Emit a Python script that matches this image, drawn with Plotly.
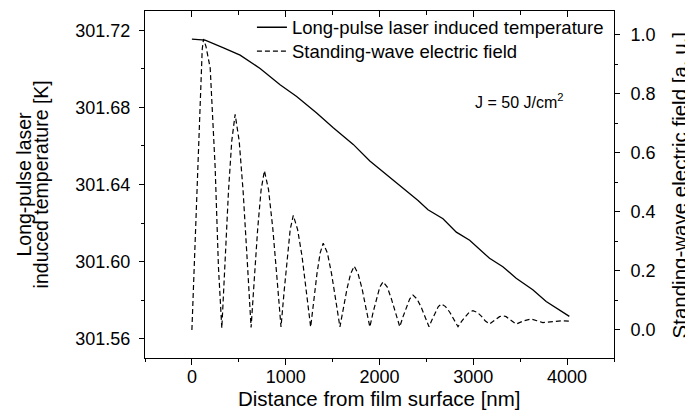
import plotly.graph_objects as go

# Long-pulse laser induced temperature (left axis, K)
temp_x = [0, 141, 337, 514, 727, 940, 1117, 1330, 1507, 1720, 1897, 2150, 2411,
          2517, 2677, 2819, 2961, 3173, 3315, 3457, 3634, 3777, 4024]
temp_y = [301.7154, 301.7149, 301.7109, 301.7071, 301.7002, 301.6917, 301.6857,
          301.6771, 301.6694, 301.6608, 301.6522, 301.6420, 301.6317, 301.6269,
          301.6222, 301.6153, 301.6111, 301.6017, 301.5973, 301.5914, 301.5854,
          301.5793, 301.5716]

# Standing-wave electric field (right axis, a.u.)
field_x = [0, 30, 55, 88, 110, 124, 150, 195, 248, 283, 319,
           355, 390, 425, 461, 504, 546, 589, 631,
           667, 702, 738, 773, 817, 862, 906, 950,
           983, 1016, 1048, 1081, 1127, 1174, 1220, 1266,
           1300, 1333, 1367, 1400, 1445, 1489, 1534, 1578,
           1616, 1654, 1692, 1730, 1772, 1814, 1855, 1897,
           1932, 1968, 2003, 2038, 2083, 2127, 2172, 2216,
           2251, 2287, 2322, 2357, 2400, 2443, 2485, 2528,
           2561, 2594, 2627, 2660, 2704, 2749, 2793, 2837,
           2877, 2917, 2956, 2996, 3040, 3085, 3129, 3173,
           3244, 3280, 3315, 3350, 3386, 3457,
           3537, 3617, 3679, 3741, 3850, 3950, 4024]
field_y = [0.0, 0.25, 0.45, 0.78, 0.95, 0.985, 0.96, 0.887, 0.55, 0.213, 0.006,
           0.24, 0.47, 0.64, 0.73, 0.64, 0.47, 0.24, 0.008,
           0.18, 0.345, 0.475, 0.539, 0.475, 0.345, 0.18, 0.01,
           0.13, 0.25, 0.34, 0.388, 0.34, 0.25, 0.13, 0.01,
           0.10, 0.19, 0.26, 0.294, 0.26, 0.19, 0.10, 0.01,
           0.075, 0.14, 0.19, 0.216, 0.19, 0.14, 0.075, 0.01,
           0.06, 0.105, 0.145, 0.163, 0.145, 0.105, 0.06, 0.011,
           0.045, 0.078, 0.105, 0.118, 0.105, 0.078, 0.045, 0.011,
           0.035, 0.06, 0.079, 0.088, 0.079, 0.06, 0.035, 0.011,
           0.03, 0.047, 0.06, 0.065, 0.06, 0.047, 0.03, 0.02,
           0.036, 0.045, 0.048, 0.045, 0.036, 0.02,
           0.031, 0.037, 0.031, 0.025, 0.028, 0.031, 0.030]

x_ticks = [0, 1000, 2000, 3000, 4000]
left_ticks = [301.56, 301.60, 301.64, 301.68, 301.72]
right_ticks = [0.0, 0.2, 0.4, 0.6, 0.8, 1.0]

FONT = "Liberation Sans, Arial, sans-serif"
X_RANGE = [-500, 4500]

fig = go.Figure()
fig.add_trace(go.Scatter(
    x=temp_x, y=temp_y, mode="lines", xaxis="x", yaxis="y",
    name="Long-pulse laser induced temperature", legend="legend",
    line=dict(color="black", width=1.3),
))
fig.add_trace(go.Scatter(
    x=field_x, y=field_y, mode="lines", xaxis="x2", yaxis="y2",
    name="Standing-wave electric field", legend="legend2",
    line=dict(color="black", width=1.2, dash="5px,3px"),
))

axis_common = dict(showgrid=False, zeroline=False, linecolor="black", linewidth=1,
                   tickcolor="black", tickwidth=1,
                   tickfont=dict(family=FONT, size=18, color="black"))

legend_common = dict(xanchor="left", yanchor="top", bgcolor="rgba(0,0,0,0)",
                     font=dict(size=18.5, family=FONT, color="black"), borderwidth=0)

fig.update_layout(
    width=693, height=420,
    margin=dict(l=137, r=87, t=2, b=70),
    plot_bgcolor="white", paper_bgcolor="white",
    font=dict(family=FONT, color="black"),
    showlegend=True,
    legend=dict(x=0.228, y=1.0037, **legend_common),
    legend2=dict(x=0.228, y=0.9348, **legend_common),
    xaxis=dict(range=X_RANGE, tickvals=x_ticks, ticks="outside", ticklen=6,
               ticklabelstandoff=-4,
               minor=dict(dtick=500, tick0=0, ticks="outside", ticklen=3, tickcolor="black"),
               showline=True, anchor="y", **axis_common),
    xaxis2=dict(range=X_RANGE, overlaying="x", side="top", anchor="y2", tickvals=x_ticks,
                ticks="inside", ticklen=6, showticklabels=False,
                minor=dict(dtick=500, tick0=0, ticks="inside", ticklen=4, tickcolor="black"),
                showline=True, **axis_common),
    yaxis=dict(range=[301.55, 301.73], tickvals=left_ticks,
               tickformat=".2f", ticks="outside", ticklen=5, ticklabelstandoff=5,
               minor=dict(dtick=0.02, tick0=301.56, ticks="outside", ticklen=3, tickcolor="black"),
               showline=True, anchor="x", **axis_common),
    yaxis2=dict(range=[-0.095, 1.08], tickvals=right_ticks, tickformat=".1f",
                overlaying="y", side="right", anchor="x2", ticks="outside", ticklen=5,
                ticklabelstandoff=7,
                minor=dict(dtick=0.1, tick0=0, ticks="outside", ticklen=3, tickcolor="black"),
                showline=True, **axis_common),
    annotations=[
        dict(text="J = 50 J/cm<sup>2</sup>", x=3000, y=0.741, xref="x", yref="paper",
             xanchor="left", yanchor="middle", showarrow=False,
             font=dict(size=16, family=FONT, color="black")),
        dict(text="Distance from film surface [nm]", x=0.5, y=-0.1178, xref="paper",
             yref="paper", xanchor="center", yanchor="middle", showarrow=False,
             font=dict(size=20.5, family=FONT, color="black")),
        dict(text="Long-pulse laser", x=-0.2600, y=0.5, xref="paper", yref="paper",
             xanchor="center", yanchor="middle", textangle=-90, showarrow=False,
             font=dict(size=19.5, family=FONT, color="black")),
        dict(text="induced temperature [K]", x=-0.2220, y=0.5, xref="paper", yref="paper",
             xanchor="center", yanchor="middle", textangle=-90, showarrow=False,
             font=dict(size=19.5, family=FONT, color="black")),
        dict(text="Standing-wave electric field [a. u.]", x=1.1407, y=0.5, xref="paper",
             yref="paper", xanchor="center", yanchor="middle", textangle=-90,
             showarrow=False, font=dict(size=20.5, family=FONT, color="black")),
    ],
)

fig.write_html("out.html")
